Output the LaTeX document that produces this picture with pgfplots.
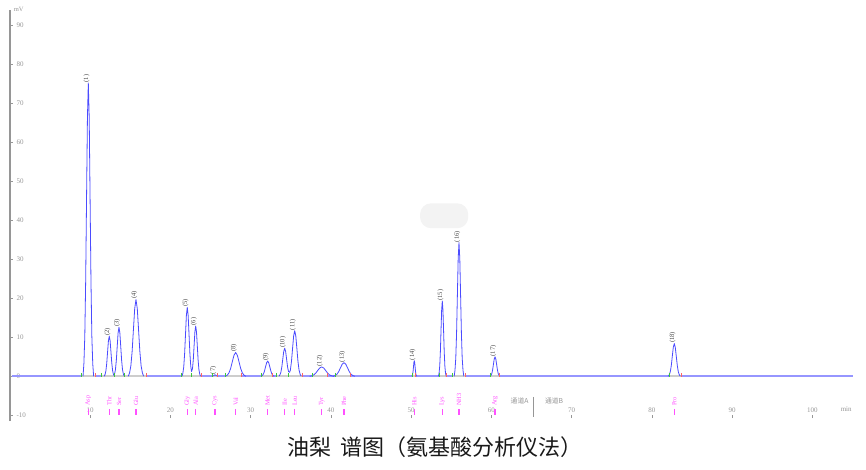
\documentclass[border=0pt]{standalone}
\usepackage{pgfplots}
\pgfplotsset{compat=1.18}
\usepackage{fontspec}
\setmainfont{Liberation Serif}
\newfontfamily\cjk{Noto Sans CJK SC}
\definecolor{peakblue}{RGB}{75,75,255}
\definecolor{baseblue}{RGB}{150,150,255}
\definecolor{basegray}{RGB}{205,205,205}
\definecolor{aamag}{RGB}{255,80,255}
\definecolor{mkgreen}{RGB}{60,200,60}
\definecolor{mkred}{RGB}{255,100,100}
\definecolor{axgray}{RGB}{150,150,150}
\definecolor{lblgray}{RGB}{70,70,70}
\definecolor{wm}{RGB}{243,243,243}
\tikzset{
 nl/.style={rotate=90, anchor=west, inner sep=0.4pt, font=\fontsize{6.5}{7}\selectfont, text=lblgray},
 al/.style={rotate=90, anchor=west, inner sep=0pt, font=\fontsize{6.3}{7}\selectfont, text=aamag}}
\pgfplotsset{pk/.style={draw=peakblue, line width=0.8pt, line join=round}}
\newcommand{\pk}[4]{\node[nl] at (axis cs:#1,#2) [yshift=1.8pt] {(#3)}; \node[al] at (axis cs:#1,-7.6) {#4};}
\begin{document}
\begin{tikzpicture}
\useasboundingbox (-10pt,-53.8pt) rectangle (856pt,415.2pt);
\begin{axis}[
  scale only axis, width=842.6pt, height=405.1pt,
  xmin=0, xmax=105, ymin=-10, ymax=94,
  clip=false,
  axis line style={draw=none},
  xtick={10,20,...,100}, ytick={-10,0,10,...,90},
  xtick pos=bottom, ytick pos=left,
  xtick align=outside, ytick align=inside,
  major tick length=3pt,
  tick style={axgray, line width=0.6pt},
  /pgf/number format/assume math mode=true,
  yticklabel style={anchor=west, xshift=3pt, font=\fontsize{7}{8}\selectfont, text=axgray},
  xticklabel style={anchor=base, yshift=6pt, font=\fontsize{7}{8}\selectfont, text=axgray},
]
% watermark blob
\fill[wm, rounded corners=11pt] (axis cs:51.1,38.0) rectangle (axis cs:57.1,44.4);
% y axis line
\draw[axgray, line width=1.3pt] (axis cs:0,-11.5) -- (axis cs:0,94);
\node[anchor=west, inner sep=0, font=\fontsize{6.5}{7}\selectfont, text=axgray] at (axis cs:0.45,94.2) {mV};
\node[anchor=base, inner sep=0, font=\fontsize{7}{8}\selectfont, text=axgray] at (axis cs:104.2,-9.0) {min};
% baseline
\addplot[draw=baseblue, line width=1.6pt] coordinates {(0.2,0) (105,0)};
\addplot[draw=basegray, line width=1.6pt, unbounded coords=jump] coordinates {
(8.85,0)(10.59,0)(10.6,nan)
(11.43,0)(16.98,0)(17,nan)
(21.31,0)(23.80,0)(23.9,nan)
(25.21,0)(25.88,0)(25.9,nan)
(26.88,0)(28.87,0)(28.9,nan)
(31.36,0)(32.74,0)(32.8,nan)
(33.23,0)(36.39,0)(36.4,nan)
(37.67,0)(39.54,0)(39.6,nan)
(40.59,0)(42.46,0)(42.5,nan)
(50.18,0)(50.55,0)(50.6,nan)
(53.50,0)(54.42,0)(54.5,nan)
(55.17,0)(56.70,0)(56.8,nan)
(59.90,0)(60.93,0)(61.0,nan)
(82.12,0)(83.70,0)};
% peaks
\addplot[pk] coordinates {(9.10,0)(9.21,3.31)(9.32,10.19)(9.43,24.45)(9.54,45.67)(9.65,66.45)(9.76,75.3)(9.87,66.45)(9.98,45.67)(10.09,24.45)(10.20,10.19)(10.31,3.31)(10.42,0)};
\addplot[pk] coordinates {(11.74,0)(11.845,0.45)(11.95,1.39)(12.055,3.34)(12.16,6.25)(12.265,9.09)(12.37,10.3)(12.475,9.09)(12.58,6.25)(12.685,3.34)(12.79,1.39)(12.895,0.45)(12.96,0.2)};
\addplot[pk] coordinates {(12.96,0.2)(13.03,0.55)(13.14,1.70)(13.25,4.09)(13.36,7.64)(13.47,11.12)(13.58,12.6)(13.69,11.12)(13.80,7.64)(13.91,4.09)(14.02,1.70)(14.13,0.55)(14.24,0)};
\addplot[pk] coordinates {(14.74,0)(14.90,0.86)(15.06,2.67)(15.22,6.40)(15.38,11.95)(15.54,17.39)(15.70,19.7)(15.86,17.39)(16.02,11.95)(16.18,6.40)(16.34,2.67)(16.50,0.86)(16.66,0)};
\addplot[pk] coordinates {(21.43,0)(21.54,0.78)(21.65,2.39)(21.76,5.75)(21.87,10.74)(21.98,15.62)(22.09,17.7)(22.20,15.62)(22.31,10.74)(22.42,5.75)(22.53,2.5)(22.62,1.2)(22.74,1.97)(22.84,4.19)(22.94,7.82)(23.04,11.38)(23.14,12.9)(23.24,11.38)(23.34,7.82)(23.44,4.19)(23.54,1.75)(23.64,0.57)(23.74,0)};
\addplot[pk] coordinates {(25.15,0)(25.40,0.15)(25.55,0.4)(25.70,0.15)(25.95,0)};
\addplot[pk] coordinates {(26.86,0)(27.07,0.27)(27.28,0.83)(27.49,1.98)(27.70,3.70)(27.91,5.38)(28.12,6.1)(28.33,5.38)(28.54,3.70)(28.75,1.98)(28.96,0.83)(29.17,0.27)(29.38,0)};
\addplot[pk] coordinates {(31.30,0)(31.435,0.17)(31.57,0.53)(31.705,1.27)(31.84,2.37)(31.975,3.44)(32.11,3.9)(32.245,3.44)(32.38,2.37)(32.515,1.27)(32.65,0.53)(32.785,0.17)(32.92,0)};
\addplot[pk] coordinates {(33.51,0)(33.63,0.32)(33.75,0.97)(33.87,2.34)(33.99,4.37)(34.11,6.35)(34.23,7.2)(34.35,6.35)(34.47,4.37)(34.59,2.34)(34.71,1.2)(34.84,1.0)(34.94,1.58)(35.075,3.80)(35.21,7.10)(35.345,10.33)(35.48,11.7)(35.615,10.33)(35.75,7.10)(35.885,3.80)(36.02,1.58)(36.155,0.51)(36.29,0)};
\addplot[pk] coordinates {(37.34,0)(37.59,0.11)(37.84,0.32)(38.09,0.78)(38.34,1.46)(38.59,2.12)(38.84,2.4)(39.09,2.12)(39.34,1.46)(39.59,0.78)(39.84,0.32)(40.09,0.11)(40.34,0)};
\addplot[pk] coordinates {(40.27,0)(40.495,0.15)(40.72,0.47)(40.945,1.14)(41.17,2.12)(41.395,3.09)(41.62,3.5)(41.845,3.09)(42.07,2.12)(42.295,1.14)(42.52,0.47)(42.745,0.15)(42.97,0)};
\addplot[pk] coordinates {(50.08,0)(50.13,0.18)(50.18,0.54)(50.23,1.30)(50.28,2.43)(50.33,3.53)(50.38,4.0)(50.43,3.53)(50.48,2.43)(50.53,1.30)(50.58,0.54)(50.63,0.18)(50.68,0)};
\addplot[pk] coordinates {(53.39,0)(53.47,0.85)(53.55,2.61)(53.63,6.27)(53.71,11.71)(53.79,17.03)(53.87,19.3)(53.95,17.03)(54.03,11.71)(54.11,6.27)(54.19,2.61)(54.27,0.85)(54.35,0)};
\addplot[pk] coordinates {(55.35,0)(55.45,1.51)(55.55,4.64)(55.65,11.14)(55.75,20.80)(55.85,30.27)(55.95,34.3)(56.05,30.27)(56.15,20.80)(56.25,11.14)(56.35,4.64)(56.45,1.51)(56.55,0)};
\addplot[pk] coordinates {(59.84,0)(59.94,0.22)(60.04,0.68)(60.14,1.62)(60.24,3.03)(60.34,4.41)(60.44,5.0)(60.54,4.41)(60.64,3.03)(60.74,1.62)(60.84,0.68)(60.94,0.22)(61.04,0)};
\addplot[pk] coordinates {(82.03,0)(82.155,0.37)(82.28,1.14)(82.405,2.73)(82.53,5.09)(82.655,7.41)(82.78,8.4)(82.905,7.41)(83.03,5.09)(83.155,2.73)(83.28,1.14)(83.405,0.37)(83.53,0)};
% integration markers
\addplot[only marks, mark=|, mark size=2.2pt, mark options={draw=mkred, line width=0.8pt}] coordinates {(10.59,0.3)(16.98,0.3)(23.80,0.3)(25.88,0.3)(28.87,0.3)(32.74,0.3)(36.39,0.3)(39.54,0.3)(42.46,0.3)(50.55,0.3)(54.42,0.3)(56.70,0.3)(60.93,0.3)(83.70,0.3)};
\addplot[only marks, mark=|, mark size=2.2pt, mark options={draw=mkgreen, line width=0.8pt}] coordinates {(8.85,0.3)(11.43,0.3)(13.0,0.3)(14.24,0.3)(21.31,0.3)(22.55,0.3)(25.21,0.3)(26.88,0.3)(31.36,0.3)(33.23,0.3)(34.73,0.3)(37.67,0.3)(40.59,0.3)(50.18,0.3)(53.50,0.3)(55.17,0.3)(59.90,0.3)(82.12,0.3)};
% amino acid ticks
\addplot[only marks, mark=|, mark size=3.0pt, mark options={draw=aamag, line width=1.2pt}] coordinates {
(9.76,-9.2)(12.37,-9.2)(13.58,-9.2)(15.70,-9.2)(22.09,-9.2)(23.14,-9.2)(25.55,-9.2)(28.12,-9.2)(32.11,-9.2)
(34.23,-9.2)(35.48,-9.2)(38.84,-9.2)(41.62,-9.2)(50.38,-9.2)(53.87,-9.2)(55.95,-9.2)(60.44,-9.2)(82.78,-9.2)};
% labels
\pk{9.76}{75.3}{1}{Asp}
\pk{12.37}{10.3}{2}{Thr}
\pk{13.58}{12.6}{3}{Ser}
\pk{15.70}{19.7}{4}{Glu}
\pk{22.09}{17.7}{5}{Gly}
\pk{23.14}{12.9}{6}{Ala}
\pk{25.55}{0.4}{7}{Cys}
\pk{28.12}{6.1}{8}{Val}
\pk{32.11}{3.9}{9}{Met}
\pk{34.23}{7.2}{10}{Ile}
\pk{35.48}{11.7}{11}{Leu}
\pk{38.84}{2.4}{12}{Tyr}
\pk{41.62}{3.5}{13}{Phe}
\pk{50.38}{4.0}{14}{His}
\pk{53.87}{19.3}{15}{Lys}
\pk{55.95}{34.3}{16}{NH3}
\pk{60.44}{5.0}{17}{Arg}
\pk{82.78}{8.4}{18}{Pro}
% channel labels
\node[inner sep=0, font=\cjk\fontsize{6.8}{7}\selectfont, text=axgray] at (axis cs:63.5,-6.2) {通道A};
\node[inner sep=0, font=\cjk\fontsize{6.8}{7}\selectfont, text=axgray] at (axis cs:67.8,-6.2) {通道B};
\draw[axgray, line width=0.9pt] (axis cs:65.17,-5.3) -- (axis cs:65.17,-10.4);
\end{axis}
\node[font=\cjk\fontsize{22}{24}\selectfont, text={rgb,255:red,25;green,25;blue,25}] at (425pt,-31.8pt) {油梨\hspace{0.45em}谱图（氨基酸分析仪法）};
\end{tikzpicture}
\end{document}
